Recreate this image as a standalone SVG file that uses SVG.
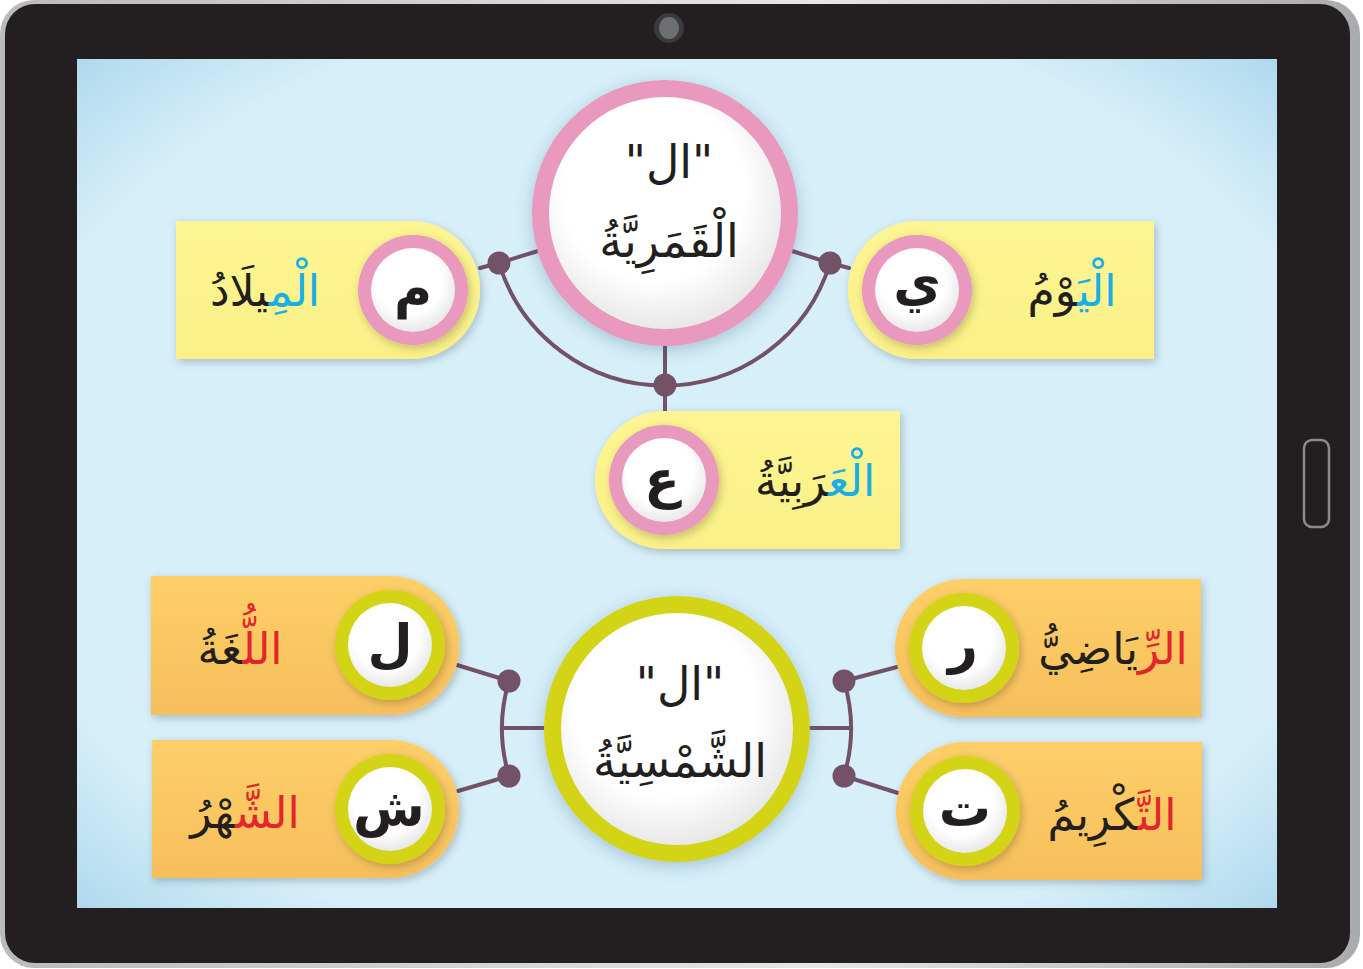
<svg xmlns="http://www.w3.org/2000/svg" width="1363" height="969" viewBox="0 0 1363 969">
<defs>
<style>
.ar{font-family:"DejaVu Sans",sans-serif;direction:rtl;text-anchor:middle;fill:#231f20}
.word{font-size:44px}
.letter{font-size:52px;font-weight:bold}
.title{font-size:46px}
.blue{fill:#1aaee6}
.red{fill:#e1262c}
.conn{stroke:#735166;stroke-width:4;fill:none;stroke-linecap:round}
.dot{fill:#735166}
.yellow{fill:url(#gYellow)}
.orange{fill:url(#gOrange)}
.pink{fill:#e899bd}
.green{fill:#d3d417}
.white{fill:url(#gWhite)}
</style>
<linearGradient id="gFrame" x1="0" y1="0" x2="1" y2="0">
<stop offset="0" stop-color="#b9babe"/><stop offset="0.6" stop-color="#e6e6e8"/><stop offset="1" stop-color="#a9aaae"/>
</linearGradient>
<radialGradient id="gScreen" cx="0.5" cy="0.5" r="0.72">
<stop offset="0.78" stop-color="#d7eff9"/><stop offset="1" stop-color="#acd7ec"/>
</radialGradient>
<radialGradient id="gWhite" cx="0.45" cy="0.4" r="0.6">
<stop offset="0.65" stop-color="#ffffff"/><stop offset="1" stop-color="#e8e8e8"/>
</radialGradient>
<linearGradient id="gYellow" x1="0" y1="0" x2="0" y2="1">
<stop offset="0" stop-color="#fdf592"/><stop offset="1" stop-color="#faf087"/>
</linearGradient>
<linearGradient id="gOrange" x1="0" y1="0" x2="0" y2="1">
<stop offset="0" stop-color="#fdcf68"/><stop offset="1" stop-color="#f6bf5c"/>
</linearGradient>
<filter id="sh" x="-20%" y="-20%" width="140%" height="140%">
<feDropShadow dx="2" dy="3" stdDeviation="4" flood-color="#000" flood-opacity="0.22"/>
</filter>
<filter id="shBig" x="-20%" y="-20%" width="140%" height="140%">
<feDropShadow dx="0" dy="4" stdDeviation="8" flood-color="#2a5a7a" flood-opacity="0.3"/>
</filter>
</defs>

<g id="tablet">
<rect x="0" y="0" width="1360" height="968" rx="34" fill="url(#gFrame)"/>
<rect x="5" y="4" width="1345" height="959" rx="30" fill="#231f20"/>
<rect x="77" y="59" width="1200" height="849" fill="url(#gScreen)"/>
<circle cx="669" cy="28" r="15" fill="#3b3a3d"/>
<ellipse cx="669" cy="28" rx="10" ry="11" fill="#6d6e72"/>
<rect x="1304" y="440" width="25" height="87" rx="8" fill="none" stroke="#8b8b8f" stroke-width="2.5"/>
</g>

<g id="connectors">
<path class="conn" d="M480,268 L499,263 L538,251"/>
<path class="conn" d="M792,251 L830,263 L849,268"/>
<path class="conn" d="M499,263 A173,173 0 0 0 830,263"/>
<path class="conn" d="M665,346 L665,411"/>
<circle class="dot" cx="499" cy="263" r="11.5"/>
<circle class="dot" cx="830" cy="263" r="11.5"/>
<circle class="dot" cx="665" cy="385" r="11.5"/>

<path class="conn" d="M457,665 L509,681"/>
<path class="conn" d="M509,776 L458,791"/>
<path class="conn" d="M509,681 A165,165 0 0 0 509,776"/>
<path class="conn" d="M502,728 L545,728"/>
<circle class="dot" cx="509" cy="681" r="11.5"/>
<circle class="dot" cx="509" cy="776" r="11.5"/>

<path class="conn" d="M897,667 L844,681"/>
<path class="conn" d="M844,776 L898,793"/>
<path class="conn" d="M844,681 A165,165 0 0 1 844,776"/>
<path class="conn" d="M808,728 L851,728"/>
<circle class="dot" cx="844" cy="681" r="11.5"/>
<circle class="dot" cx="844" cy="776" r="11.5"/>
</g>

<g id="qamariyya">
<circle cx="665" cy="213" r="133" class="pink" filter="url(#shBig)"/>
<circle cx="665" cy="213" r="116" class="white"/>
<text class="ar title" x="669" y="178">"ال"</text>
<text class="ar title" x="669" y="257">الْقَمَرِيَّةُ</text>
</g>

<g id="node-milad">
<path class="yellow" filter="url(#sh)" d="M176,221 H411 A69,69 0 0 1 411,359 H176 Z"/>
<circle cx="413" cy="290" r="55" class="pink" filter="url(#sh)"/>
<circle cx="413" cy="290" r="42" class="white"/>
<text class="ar letter" x="413" y="307">م</text>
<text class="ar word" x="265" y="306"><tspan class="blue">الْمِ</tspan>يلَادُ</text>
</g>

<g id="node-yawm">
<path class="yellow" filter="url(#sh)" d="M1154,221 H917 A69,69 0 0 0 917,359 H1154 Z"/>
<circle cx="917" cy="290" r="55" class="pink" filter="url(#sh)"/>
<circle cx="917" cy="290" r="42" class="white"/>
<text class="ar letter" x="917" y="300">ي</text>
<text class="ar word" x="1072" y="306"><tspan class="blue">الْيَ</tspan>وْمُ</text>
</g>

<g id="node-arabiyya">
<path class="yellow" filter="url(#sh)" d="M900,411 H664 A69,69 0 0 0 664,549 H900 Z"/>
<circle cx="664" cy="480" r="55" class="pink" filter="url(#sh)"/>
<circle cx="664" cy="480" r="42" class="white"/>
<text class="ar letter" x="662" y="497">ع</text>
<text class="ar word" x="815" y="496"><tspan class="blue">الْعَ</tspan>رَبِيَّةُ</text>
</g>

<g id="shamsiyya">
<circle cx="677" cy="729" r="133" class="green" filter="url(#shBig)"/>
<circle cx="677" cy="729" r="116" class="white"/>
<text class="ar title" x="680" y="700">"ال"</text>
<text class="ar title" x="680" y="777">الشَّمْسِيَّةُ</text>
</g>

<g id="node-lugha">
<path class="orange" filter="url(#sh)" d="M151,576 H390 A69.5,69.5 0 0 1 390,715 H151 Z"/>
<circle cx="390" cy="645" r="55" class="green" filter="url(#sh)"/>
<circle cx="390" cy="645" r="42" class="white"/>
<text class="ar letter" x="390" y="662">ل</text>
<text class="ar word" x="240" y="664"><tspan class="red">اللُّ</tspan>غَةُ</text>
</g>

<g id="node-shahr">
<path class="orange" filter="url(#sh)" d="M152,740 H390 A69,69 0 0 1 390,878 H152 Z"/>
<circle cx="390" cy="809" r="55" class="green" filter="url(#sh)"/>
<circle cx="390" cy="809" r="42" class="white"/>
<text class="ar letter" x="389" y="826">ش</text>
<text class="ar word" x="245" y="828"><tspan class="red">الشَّ</tspan>هْرُ</text>
</g>

<g id="node-riyadi">
<path class="orange" filter="url(#sh)" d="M1201,579 H964 A69,69 0 0 0 964,717 H1201 Z"/>
<circle cx="964" cy="648" r="55" class="green" filter="url(#sh)"/>
<circle cx="964" cy="648" r="42" class="white"/>
<text class="ar letter" x="963" y="662">ر</text>
<text class="ar word" x="1113" y="664"><tspan class="red">الرِّ</tspan>يَاضِيُّ</text>
</g>

<g id="node-takrim">
<path class="orange" filter="url(#sh)" d="M1202,742 H965 A69,69 0 0 0 965,880 H1202 Z"/>
<circle cx="965" cy="811" r="55" class="green" filter="url(#sh)"/>
<circle cx="965" cy="811" r="42" class="white"/>
<text class="ar letter" x="965" y="826">ت</text>
<text class="ar word" x="1112" y="830"><tspan class="red">التَّ</tspan>كْرِيمُ</text>
</g>
</svg>
